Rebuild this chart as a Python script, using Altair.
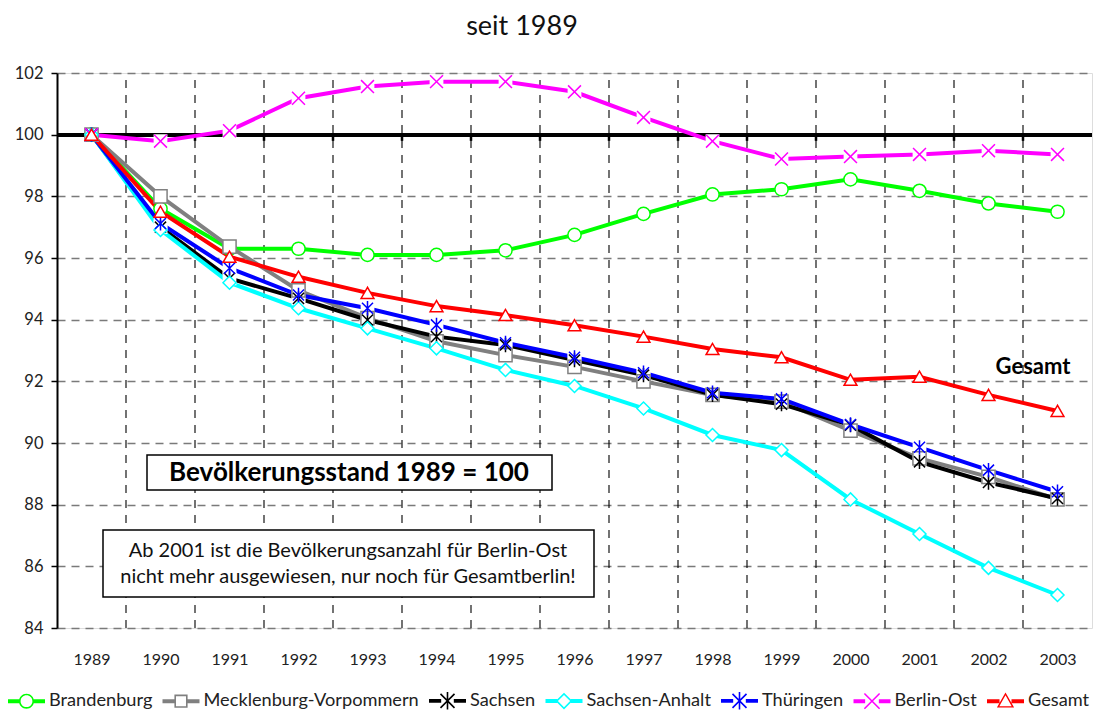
import math
import altair as alt
import pandas as pd

years = [1989, 1990, 1991, 1992, 1993, 1994, 1995, 1996, 1997, 1998, 1999, 2000, 2001, 2002, 2003]
series_names = ["Brandenburg", "Mecklenburg-Vorpommern", "Sachsen", "Sachsen-Anhalt",
                "Thüringen", "Berlin-Ost", "Gesamt"]

brandenburg = [100, 97.6, 96.3, 96.3, 96.1, 96.1, 96.25, 96.75, 97.43, 98.06, 98.23, 98.55, 98.18, 97.77, 97.5]
mecklenburg = [100, 98.0, 96.37, 94.95, 94.05, 93.3, 92.85, 92.47, 92.0, 91.56, 91.34, 90.4, 89.5, 88.9, 88.17]
sachsen = [100, 97.0, 95.34, 94.69, 93.99, 93.45, 93.18, 92.69, 92.2, 91.56, 91.26, 90.58, 89.39, 88.72, 88.2]
sachsen_anhalt = [100, 96.91, 95.2, 94.37, 93.72, 93.07, 92.37, 91.85, 91.12, 90.26, 89.77, 88.17, 87.05, 85.95, 85.07]
thueringen = [100, 97.12, 95.67, 94.8, 94.37, 93.83, 93.25, 92.78, 92.28, 91.63, 91.43, 90.6, 89.86, 89.12, 88.42]
berlin_ost = [100, 99.79, 100.13, 101.18, 101.56, 101.72, 101.72, 101.39, 100.56, 99.79, 99.21, 99.29, 99.36, 99.48, 99.36]
gesamt = [100, 97.5, 96.04, 95.39, 94.87, 94.44, 94.15, 93.82, 93.45, 93.05, 92.78, 92.05, 92.15, 91.56, 91.04]

y_ticks = [84, 86, 88, 90, 92, 94, 96, 98, 100, 102]

title_text = "seit 1989"
box1_text = "Bevölkerungsstand 1989 = 100"
box2_lines = ["Ab 2001 ist die Bevölkerungsanzahl für Berlin-Ost",
              "nicht mehr ausgewiesen, nur noch für Gesamtberlin!"]
gesamt_label = "Gesamt"

all_values = [brandenburg, mecklenburg, sachsen, sachsen_anhalt, thueringen, berlin_ost, gesamt]
rows = []
for name, vals in zip(series_names, all_values):
    for yr, v in zip(years, vals):
        rows.append({"year": yr, "value": v, "series": name})
df = pd.DataFrame(rows)
bounds = pd.DataFrame({"b": [y + 0.5 for y in years[:-1]]})

FONT = "Lato"
colors = ["#00FF00", "#808080", "#000000", "#00FFFF", "#0000FF", "#FF00FF", "#FF0000"]
STAR = "M-0.85,-0.85L0.85,0.85M0.85,-0.85L-0.85,0.85M0,-1.1L0,1.1"
XSH = "M-1,-1L1,1M1,-1L-1,1"
shapes = ["circle", "square", STAR, "diamond", STAR, XSH, "triangle-up"]
sizes = [175, 165, 230, 250, 230, 300, 230]

# ---- legend symbols: a thick line stub with a thin marker outline, built as filled outlines ----
SYM = 1369
S = math.sqrt(SYM) / 2.0          # px per unit of the symbol box
T = 1.6 / S                       # marker outline thickness
HH = 2.0 / S                      # half thickness of the line stub


def f(v):
    return f"{v:.3f}"


def poly(pts, hole=False):
    a = sum(pts[i][0] * pts[(i + 1) % len(pts)][1] - pts[(i + 1) % len(pts)][0] * pts[i][1]
            for i in range(len(pts)))
    if (a < 0) != hole:
        pts = pts[::-1]
    return "M" + "L".join(f"{f(x)},{f(y)}" for x, y in pts) + "Z"


def seg(x0, y0, x1, y1, w):
    L = math.hypot(x1 - x0, y1 - y0)
    nx, ny = -(y1 - y0) / L * w, (x1 - x0) / L * w
    return poly([(x0 + nx, y0 + ny), (x1 + nx, y1 + ny), (x1 - nx, y1 - ny), (x0 - nx, y0 - ny)])


def stubs(e):
    return poly([(-1, -HH), (-e, -HH), (-e, HH), (-1, HH)]) + poly([(e, -HH), (1, -HH), (1, HH), (e, HH)])


def ring_circle(r):
    ri = r - T
    outer = f"M{f(r)},0A{f(r)},{f(r)} 0 1 1 {f(-r)},0A{f(r)},{f(r)} 0 1 1 {f(r)},0Z"
    inner = f"M{f(ri)},0A{f(ri)},{f(ri)} 0 1 0 {f(-ri)},0A{f(ri)},{f(ri)} 0 1 0 {f(ri)},0Z"
    return outer + inner


def ring_poly(pts, k):
    cx = sum(p[0] for p in pts) / len(pts)
    cy = sum(p[1] for p in pts) / len(pts)
    inner = [(cx + (x - cx) * k, cy + (y - cy) * k) for x, y in pts]
    return poly(pts) + poly(inner, hole=True)


r_c = 7.5 / S
q = 6.6 / S
d = 8.4 / S
st = 7.0 / S
xx = 7.6 / S
tri = [(0, -8.6 / S), (8.6 / S, 6.4 / S), (-8.6 / S, 6.4 / S)]
star_leg = (stubs(st * 0.9) + seg(-st, -st, st, st, T / 2) + seg(st, -st, -st, st, T / 2)
            + seg(0, -st * 1.25, 0, st * 1.25, T / 2))
leg_paths = [
    stubs(r_c - T / 2) + ring_circle(r_c),
    stubs(q - T / 2) + ring_poly([(-q, -q), (q, -q), (q, q), (-q, q)], (q - T) / q),
    star_leg,
    stubs(d - T) + ring_poly([(0, -d), (d, 0), (0, d), (-d, 0)], (d - T * 1.45) / d),
    star_leg,
    stubs(xx * 0.9) + seg(-xx, -xx, xx, xx, T / 2) + seg(xx, -xx, -xx, xx, T / 2),
    stubs(6.0 / S) + ring_poly(tri, 0.72),
]

W, H = 1035, 555
LEG_X, LEG_Y = -49, 609

x_scale = alt.Scale(domain=[years[0] - 0.5, years[-1] + 0.5], nice=False, zero=False)
y_scale = alt.Scale(domain=[y_ticks[0], y_ticks[-1]], nice=False, zero=False)

x_axis = alt.Axis(values=years, format="d", ticks=False, domain=False, grid=False,
                  labelFont=FONT, labelFontSize=16, labelColor="#222", labelPadding=23, title=None)
y_axis = alt.Axis(values=y_ticks, grid=True, gridDash=[8, 6], gridColor="#7a7a7a", gridWidth=1.5,
                  tickSize=6, tickColor="black", tickWidth=1.5, domainColor="black", domainWidth=2,
                  labelFont=FONT, labelFontSize=16.5, labelColor="#222", labelPadding=8, title=None)

base = alt.Chart(df)

vgrid = alt.Chart(bounds).mark_rule(color="black", strokeDash=[8, 7], strokeWidth=1.1).encode(
    x=alt.X("b:Q", scale=x_scale, axis=x_axis),
    y=alt.datum(y_ticks[0], scale=y_scale),
    y2=alt.datum(y_ticks[-1]),
)
hundred = alt.Chart(bounds).mark_rule(color="black", strokeWidth=3.5).encode(
    x=alt.value(0), x2=alt.value(W), y=alt.datum(100)
)
hticks = alt.Chart(bounds).mark_rule(color="black", strokeWidth=2.5).encode(
    x=alt.X("b:Q"), y=alt.datum(100), y2=alt.datum(99.8)
)

lines = base.mark_line(strokeWidth=4).encode(
    x=alt.X("year:Q", scale=x_scale),
    y=alt.Y("value:Q", scale=y_scale, axis=y_axis),
    color=alt.Color("series:N", scale=alt.Scale(domain=series_names, range=colors), legend=None),
    order=alt.Order("year:Q"),
)
backs = base.transform_filter(
    alt.FieldOneOfPredicate(field="series", oneOf=["Sachsen", "Thüringen", "Berlin-Ost"])
).mark_point(shape="square", filled=True, fill="white", strokeWidth=0, size=190, opacity=1).encode(
    x="year:Q", y="value:Q"
)
points = base.mark_point(filled=True, fill="white", strokeWidth=1.5, opacity=1).encode(
    x="year:Q", y="value:Q",
    stroke=alt.Stroke("series:N", scale=alt.Scale(domain=series_names, range=colors), legend=None),
    shape=alt.Shape("series:N", scale=alt.Scale(domain=series_names, range=shapes), legend=None),
    size=alt.Size("series:N", scale=alt.Scale(domain=series_names, range=sizes), legend=None),
)

legend = alt.Legend(title=None, orient="none", legendX=LEG_X, legendY=LEG_Y, direction="horizontal",
                    symbolSize=SYM, symbolStrokeWidth=0, symbolOpacity=1,
                    labelFont=FONT, labelFontSize=18.2, labelColor="#222", labelOffset=4,
                    columnPadding=9.5, padding=0, labelLimit=400)
# legend carrier: its points sit outside the plot and are clipped away; only the legend shows
legend_layer = base.mark_point(filled=True, strokeWidth=0, opacity=1, clip=True).encode(
    x=alt.value(-500), y=alt.value(-500),
    color=alt.Color("series:N", scale=alt.Scale(domain=series_names, range=colors), legend=legend),
    shape=alt.Shape("series:N", scale=alt.Scale(domain=series_names, range=leg_paths), legend=legend),
)

one = pd.DataFrame({"k": [0]})
box1 = alt.Chart(one).mark_rect(fill="white", stroke="black", strokeWidth=1.5).encode(
    x=alt.value(90), x2=alt.value(495), y=alt.value(382), y2=alt.value(417))
box1_t = alt.Chart(one).mark_text(text=box1_text, font=FONT, fontSize=26, fontWeight="bold",
                                  color="black", baseline="middle", align="center").encode(
    x=alt.value(292), y=alt.value(400))
box2 = alt.Chart(one).mark_rect(fill="white", stroke="black", strokeWidth=1.5).encode(
    x=alt.value(46), x2=alt.value(537), y=alt.value(457), y2=alt.value(524))
box2_t = alt.Chart(one).mark_text(text=box2_lines, font=FONT, fontSize=20, lineHeight=26,
                                  color="#111", baseline="middle", align="center").encode(
    x=alt.value(291), y=alt.value(478))
ges_t = alt.Chart(one).mark_text(text=gesamt_label, font=FONT, fontSize=22, fontWeight="bold",
                                 color="black", baseline="middle", align="center").encode(
    x=alt.value(976), y=alt.value(294))
title_t = alt.Chart(one).mark_text(text=title_text, font=FONT, fontSize=27,
                                   color="#111", baseline="middle", align="center").encode(
    x=alt.value(465), y=alt.value(-46))

chart = alt.layer(vgrid, hundred, hticks, lines, backs, points, legend_layer,
                  box1, box1_t, box2, box2_t, ges_t, title_t).resolve_scale(
    color="independent", shape="independent"
).properties(
    width=W, height=H,
    autosize=alt.AutoSizeParams(type="none"),
    padding={"left": 49, "top": 65, "right": 6, "bottom": 82},
).configure_view(stroke="black", strokeWidth=1.5).configure(background="white")

chart.save("out.html", embed_options={"renderer": "svg", "actions": False})
